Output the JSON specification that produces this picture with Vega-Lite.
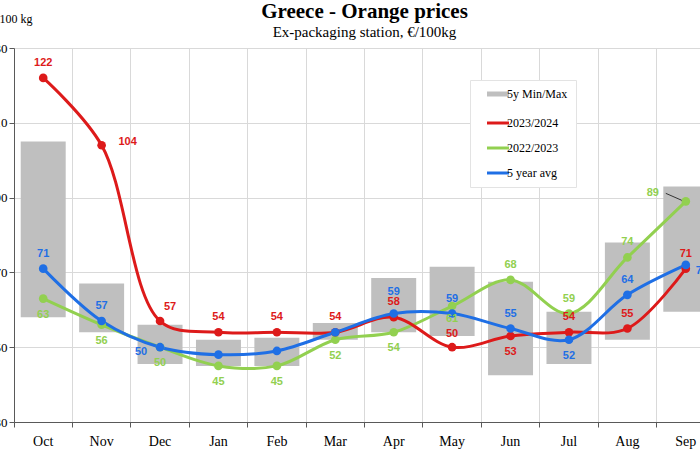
{
  "$schema": "https://vega.github.io/schema/vega-lite/v6.json",
  "autosize": {"type": "none"},
  "padding": {"left": 14, "top": 48, "right": 0, "bottom": 28},
  "width": 701,
  "height": 374,
  "background": "white",
  "title": {
    "text": "Greece  -  Orange  prices",
    "subtitle": "Ex-packaging station, €/100kg",
    "font": "Liberation Serif",
    "fontSize": 21,
    "fontWeight": "bold",
    "color": "black",
    "subtitleFont": "Liberation Serif",
    "subtitleFontSize": 15,
    "subtitleColor": "black",
    "subtitlePadding": 3,
    "anchor": "middle",
    "offset": -28
  },
  "config": {
    "view": {"stroke": null},
    "axis": {
      "domainColor": "#595959",
      "tickColor": "#595959",
      "gridColor": "#d9d9d9",
      "labelFont": "Liberation Serif",
      "labelColor": "black",
      "titleFont": "Liberation Serif",
      "titleColor": "black"
    }
  },
  "datasets": {
    "range": [
      {"month": "Oct", "series": "5y Min/Max", "min": 58, "max": 105},
      {"month": "Nov", "series": "5y Min/Max", "min": 54, "max": 67},
      {"month": "Dec", "series": "5y Min/Max", "min": 45.5, "max": 56},
      {"month": "Jan", "series": "5y Min/Max", "min": 45, "max": 52},
      {"month": "Feb", "series": "5y Min/Max", "min": 45, "max": 52.5},
      {"month": "Mar", "series": "5y Min/Max", "min": 52, "max": 56.5},
      {"month": "Apr", "series": "5y Min/Max", "min": 54, "max": 68.5},
      {"month": "May", "series": "5y Min/Max", "min": 53, "max": 71.5},
      {"month": "Jun", "series": "5y Min/Max", "min": 42.5, "max": 67.5},
      {"month": "Jul", "series": "5y Min/Max", "min": 45.5, "max": 59.5},
      {"month": "Aug", "series": "5y Min/Max", "min": 52, "max": 78},
      {"month": "Sep", "series": "5y Min/Max", "min": 59.5, "max": 93}
    ],
    "series": [
      {"month": "Oct", "series": "2022/2023", "value": 63},
      {"month": "Nov", "series": "2022/2023", "value": 56},
      {"month": "Dec", "series": "2022/2023", "value": 50},
      {"month": "Jan", "series": "2022/2023", "value": 45},
      {"month": "Feb", "series": "2022/2023", "value": 45},
      {"month": "Mar", "series": "2022/2023", "value": 52},
      {"month": "Apr", "series": "2022/2023", "value": 54},
      {"month": "May", "series": "2022/2023", "value": 61},
      {"month": "Jun", "series": "2022/2023", "value": 68},
      {"month": "Jul", "series": "2022/2023", "value": 59},
      {"month": "Aug", "series": "2022/2023", "value": 74},
      {"month": "Sep", "series": "2022/2023", "value": 89},
      {"month": "Oct", "series": "2023/2024", "value": 122},
      {"month": "Nov", "series": "2023/2024", "value": 104},
      {"month": "Dec", "series": "2023/2024", "value": 57},
      {"month": "Jan", "series": "2023/2024", "value": 54},
      {"month": "Feb", "series": "2023/2024", "value": 54},
      {"month": "Mar", "series": "2023/2024", "value": 54},
      {"month": "Apr", "series": "2023/2024", "value": 58},
      {"month": "May", "series": "2023/2024", "value": 50},
      {"month": "Jun", "series": "2023/2024", "value": 53},
      {"month": "Jul", "series": "2023/2024", "value": 54},
      {"month": "Aug", "series": "2023/2024", "value": 55},
      {"month": "Sep", "series": "2023/2024", "value": 71},
      {"month": "Oct", "series": "5 year avg", "value": 71},
      {"month": "Nov", "series": "5 year avg", "value": 57},
      {"month": "Dec", "series": "5 year avg", "value": 50},
      {"month": "Jan", "series": "5 year avg", "value": 48},
      {"month": "Feb", "series": "5 year avg", "value": 49},
      {"month": "Mar", "series": "5 year avg", "value": 54},
      {"month": "Apr", "series": "5 year avg", "value": 59},
      {"month": "May", "series": "5 year avg", "value": 59},
      {"month": "Jun", "series": "5 year avg", "value": 55},
      {"month": "Jul", "series": "5 year avg", "value": 52},
      {"month": "Aug", "series": "5 year avg", "value": 64},
      {"month": "Sep", "series": "5 year avg", "value": 72}
    ]
  },
  "encoding": {
    "x": {
      "field": "month",
      "type": "nominal",
      "sort": ["Oct", "Nov", "Dec", "Jan", "Feb", "Mar", "Apr", "May", "Jun", "Jul", "Aug", "Sep"],
      "scale": {"paddingInner": 0, "paddingOuter": 0},
      "axis": {
        "title": null,
        "labelAngle": 0,
        "labelFontSize": 14,
        "labelPadding": 7,
        "tickSize": 5,
        "bandPosition": 0,
        "grid": true
      }
    }
  },
  "layer": [
    {
      "data": {"name": "range"},
      "mark": {"type": "bar", "width": {"band": 0.77}},
      "encoding": {
        "y": {
          "field": "min",
          "type": "quantitative",
          "scale": {"domain": [30, 130], "nice": false, "zero": false},
          "axis": {
            "values": [30, 40, 50, 60, 70, 80, 90, 100, 110, 120, 130],
            "title": "€/100 kg",
            "titleAngle": 0,
            "titleX": 18,
            "titleY": -26,
            "titleAlign": "right",
            "titleBaseline": "alphabetic",
            "titleFontSize": 12,
            "titleFontWeight": "normal",
            "labelFontSize": 13,
            "tickSize": 5,
            "grid": true
          }
        },
        "y2": {"field": "max"},
        "color": {"field": "series", "type": "nominal"}
      }
    },
    {
      "data": {"name": "series"},
      "mark": {"type": "line", "interpolate": "catmull-rom", "strokeWidth": 3},
      "encoding": {
        "y": {"field": "value", "type": "quantitative"},
        "color": {
          "field": "series",
          "type": "nominal",
          "scale": {
            "domain": ["5y Min/Max", "2023/2024", "2022/2023", "5 year avg"],
            "range": ["#bfbfbf", "#dd1a1a", "#92d050", "#1f6fe5"]
          },
          "legend": {
            "title": null,
            "orient": "none",
            "legendX": 456,
            "legendY": 32,
            "fillColor": "white",
            "strokeColor": "#e3e3e3",
            "padding": 8,
            "symbolOffset": 14,
            "symbolType": "stroke",
            "symbolSize": 484,
            "symbolStrokeWidth": 3,
            "labelFont": "Liberation Serif",
            "labelFontSize": 12,
            "labelColor": "black",
            "labelOffset": 3,
            "rowPadding": 13,
            "encode": {
              "symbols": {
                "update": {
                  "stroke": {"scale": "color", "field": "value"},
                  "strokeWidth": {"signal": "datum.label === '5y Min/Max' ? 5 : 3"}
                }
              }
            }
          }
        }
      }
    },
    {
      "data": {"name": "series"},
      "mark": {"type": "circle", "size": 75, "opacity": 1},
      "encoding": {
        "y": {"field": "value", "type": "quantitative"},
        "color": {"field": "series", "type": "nominal"}
      }
    },
    {
      "data": {"name": "series"},
      "transform": [{"filter": "datum.series === '2022/2023' && datum.month === 'Sep'"}],
      "mark": {"type": "rule", "color": "#333333", "strokeWidth": 1, "xOffset": -20, "yOffset": -8, "x2Offset": -4, "y2Offset": -1},
      "encoding": {
        "y": {"field": "value", "type": "quantitative"},
        "x2": {"field": "month"},
        "y2": {"field": "value"}
      }
    },
    {
      "data": {"name": "series"},
      "transform": [{"filter": "(datum.series === '2023/2024' && indexof(['Oct','Jan','Feb','Mar','Apr','Jul','Aug','Sep'], datum.month) >= 0) || (datum.series === '2022/2023' && indexof(['Jun','Jul','Aug'], datum.month) >= 0) || (datum.series === '5 year avg' && indexof(['Oct','Nov','May','Jun','Aug'], datum.month) >= 0)"}],
      "mark": {"type": "text", "font": "Liberation Sans", "fontWeight": "bold", "fontSize": 11, "baseline": "middle", "dy": -15},
      "encoding": {
        "y": {"field": "value", "type": "quantitative"},
        "text": {"field": "value", "type": "quantitative"},
        "color": {"field": "series", "type": "nominal"}
      }
    },
    {
      "data": {"name": "series"},
      "transform": [{"filter": "datum.series === '5 year avg' && datum.month === 'Apr'"}],
      "mark": {"type": "text", "font": "Liberation Sans", "fontWeight": "bold", "fontSize": 11, "baseline": "middle", "dy": -22},
      "encoding": {
        "y": {"field": "value", "type": "quantitative"},
        "text": {"field": "value", "type": "quantitative"},
        "color": {"field": "series", "type": "nominal"}
      }
    },
    {
      "data": {"name": "series"},
      "transform": [{"filter": "datum.series === '2023/2024' && datum.month === 'May'"}],
      "mark": {"type": "text", "font": "Liberation Sans", "fontWeight": "bold", "fontSize": 11, "baseline": "middle", "dy": -13},
      "encoding": {
        "y": {"field": "value", "type": "quantitative"},
        "text": {"field": "value", "type": "quantitative"},
        "color": {"field": "series", "type": "nominal"}
      }
    },
    {
      "data": {"name": "series"},
      "transform": [{"filter": "(datum.series === '2023/2024' && datum.month === 'Jun') || (datum.series === '2022/2023' && indexof(['Oct','Nov','Dec','Jan','Feb','Mar','Apr'], datum.month) >= 0) || (datum.series === '5 year avg' && datum.month === 'Jul')"}],
      "mark": {"type": "text", "font": "Liberation Sans", "fontWeight": "bold", "fontSize": 11, "baseline": "middle", "dy": 16},
      "encoding": {
        "y": {"field": "value", "type": "quantitative"},
        "text": {"field": "value", "type": "quantitative"},
        "color": {"field": "series", "type": "nominal"}
      }
    },
    {
      "data": {"name": "series"},
      "transform": [{"filter": "datum.series === '2022/2023' && datum.month === 'May'"}],
      "mark": {"type": "text", "font": "Liberation Sans", "fontWeight": "bold", "fontSize": 11, "baseline": "middle", "dy": 13},
      "encoding": {
        "y": {"field": "value", "type": "quantitative"},
        "text": {"field": "value", "type": "quantitative"},
        "color": {"field": "series", "type": "nominal"}
      }
    },
    {
      "data": {"name": "series"},
      "transform": [{"filter": "datum.series === '2023/2024' && datum.month === 'Nov'"}],
      "mark": {"type": "text", "font": "Liberation Sans", "fontWeight": "bold", "fontSize": 11, "baseline": "middle", "dx": 26, "dy": -3},
      "encoding": {
        "y": {"field": "value", "type": "quantitative"},
        "text": {"field": "value", "type": "quantitative"},
        "color": {"field": "series", "type": "nominal"}
      }
    },
    {
      "data": {"name": "series"},
      "transform": [{"filter": "datum.series === '2023/2024' && datum.month === 'Dec'"}],
      "mark": {"type": "text", "font": "Liberation Sans", "fontWeight": "bold", "fontSize": 11, "baseline": "middle", "dx": 10, "dy": -14},
      "encoding": {
        "y": {"field": "value", "type": "quantitative"},
        "text": {"field": "value", "type": "quantitative"},
        "color": {"field": "series", "type": "nominal"}
      }
    },
    {
      "data": {"name": "series"},
      "transform": [{"filter": "datum.series === '5 year avg' && datum.month === 'Dec'"}],
      "mark": {"type": "text", "font": "Liberation Sans", "fontWeight": "bold", "fontSize": 11, "baseline": "middle", "dx": -19, "dy": 5},
      "encoding": {
        "y": {"field": "value", "type": "quantitative"},
        "text": {"field": "value", "type": "quantitative"},
        "color": {"field": "series", "type": "nominal"}
      }
    },
    {
      "data": {"name": "series"},
      "transform": [{"filter": "datum.series === '2022/2023' && datum.month === 'Sep'"}],
      "mark": {"type": "text", "font": "Liberation Sans", "fontWeight": "bold", "fontSize": 11, "baseline": "middle", "dx": -33, "dy": -8},
      "encoding": {
        "y": {"field": "value", "type": "quantitative"},
        "text": {"field": "value", "type": "quantitative"},
        "color": {"field": "series", "type": "nominal"}
      }
    },
    {
      "data": {"name": "series"},
      "transform": [{"filter": "datum.series === '5 year avg' && datum.month === 'Sep'"}],
      "mark": {"type": "text", "font": "Liberation Sans", "fontWeight": "bold", "fontSize": 11, "baseline": "middle", "dx": 16, "dy": 6},
      "encoding": {
        "y": {"field": "value", "type": "quantitative"},
        "text": {"field": "value", "type": "quantitative"},
        "color": {"field": "series", "type": "nominal"}
      }
    }
  ]
}
